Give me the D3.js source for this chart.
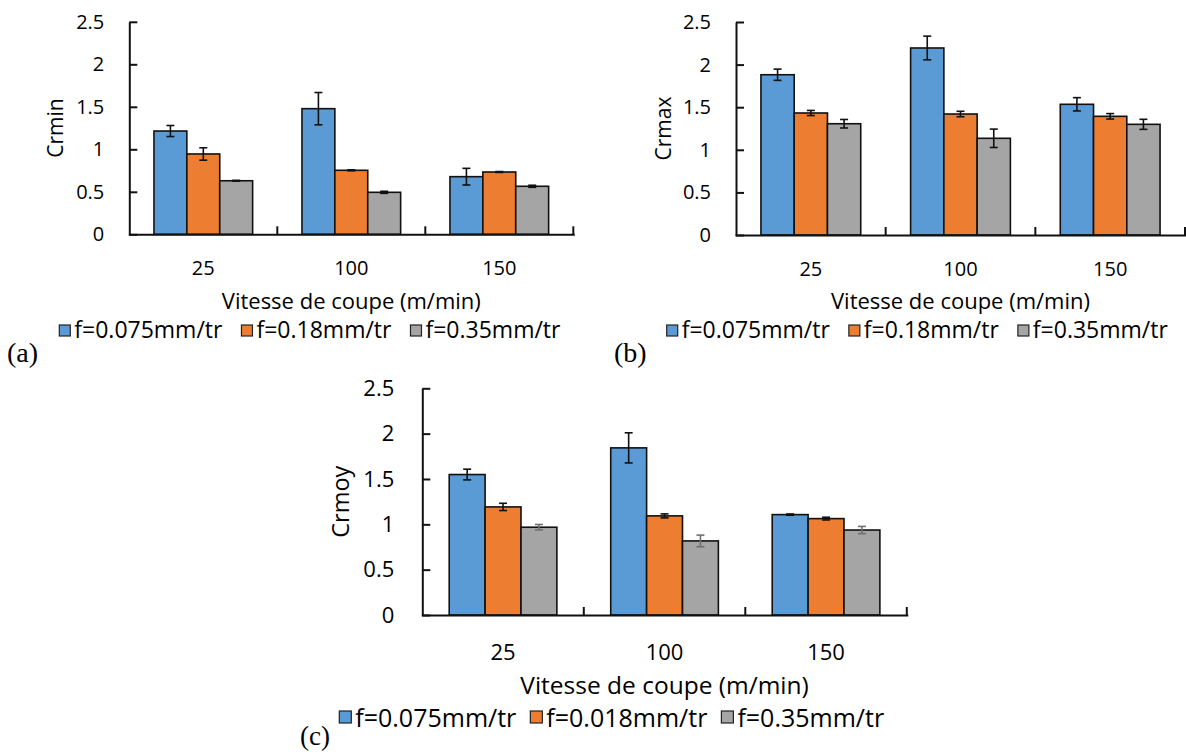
<!DOCTYPE html>
<html><head><meta charset="utf-8">
<script src="https://cdn.jsdelivr.net/npm/d3@7"></script>
<style>
body{margin:0;background:#fff}
svg{display:block}
</style>
</head><body>
<svg id="chart" width="1186" height="754"></svg>
<script>
// ---------- data ----------
const categories = ["25", "100", "150"];
const legendAB = ["f=0.075mm/tr", "f=0.18mm/tr", "f=0.35mm/tr"];
const legendC = ["f=0.075mm/tr", "f=0.018mm/tr", "f=0.35mm/tr"];
const yTickValues = [0, 0.5, 1, 1.5, 2, 2.5];
const seriesColors = ["#5B9BD5", "#ED7D31", "#A5A5A5"];

// (a) Crmin
const crmin075 = [1.215, 1.478, 0.678];
const crmin075Err = [0.065, 0.19, 0.098];
const crmin018 = [0.945, 0.753, 0.733];
const crmin018Err = [0.073, 0.006, 0.005];
const crmin035 = [0.63, 0.494, 0.565];
const crmin035Err = [0.005, 0.012, 0.012];

// (b) Crmax
const crmax075 = [1.881, 2.195, 1.534];
const crmax075Err = [0.066, 0.139, 0.078];
const crmax018 = [1.432, 1.42, 1.393];
const crmax018Err = [0.03, 0.032, 0.032];
const crmax035 = [1.306, 1.135, 1.299];
const crmax035Err = [0.05, 0.108, 0.059];

// (c) Crmoy
const crmoy075 = [1.549, 1.843, 1.107];
const crmoy075Err = [0.059, 0.166, 0.007];
const crmoy018 = [1.192, 1.093, 1.063];
const crmoy018Err = [0.04, 0.022, 0.015];
const crmoy035 = [0.968, 0.817, 0.937];
const crmoy035Err = [0.03, 0.064, 0.04];

// ---------- drawing ----------
const svg = d3.select("#chart");
const FONT = "'Open Sans', sans-serif";

function drawPanel(p) {
  const g = svg.append("g");
  const x = d3.scaleBand().domain(categories).range([p.left, p.right]);
  const xs = d3.scaleBand().domain(d3.range(p.series.length))
    .range([0, x.bandwidth()]).paddingOuter(0.75);
  const y = d3.scaleLinear().domain([0, 2.5]).range([p.bottom, p.top]);

  // bars
  p.series.forEach((s, i) => {
    g.selectAll(null).data(s.values).enter().append("rect")
      .attr("x", (d, j) => x(categories[j]) + xs(i))
      .attr("y", d => y(d))
      .attr("width", xs.bandwidth())
      .attr("height", d => y(0) - y(d))
      .attr("fill", seriesColors[i])
      .attr("stroke", "#111").attr("stroke-width", 1.6);
  });

  // error bars
  p.series.forEach((s, i) => {
    const col = s.errColor || "#111";
    const eg = g.selectAll(null).data(s.values).enter().append("g")
      .attr("stroke", col).attr("stroke-width", 1.6);
    const cx = (j) => x(categories[j]) + xs(i) + xs.bandwidth() / 2;
    eg.append("line")
      .attr("x1", (d, j) => cx(j)).attr("x2", (d, j) => cx(j))
      .attr("y1", (d, j) => y(d - s.err[j])).attr("y2", (d, j) => y(d + s.err[j]));
    eg.append("line")
      .attr("x1", (d, j) => cx(j) - 4).attr("x2", (d, j) => cx(j) + 4)
      .attr("y1", (d, j) => y(d + s.err[j])).attr("y2", (d, j) => y(d + s.err[j]));
    eg.append("line")
      .attr("x1", (d, j) => cx(j) - 4).attr("x2", (d, j) => cx(j) + 4)
      .attr("y1", (d, j) => y(d - s.err[j])).attr("y2", (d, j) => y(d - s.err[j]));
  });

  // y axis
  const ya = d3.axisLeft(y).tickValues(yTickValues).tickSize(-8).tickSizeOuter(0)
    .tickPadding(p.tickPad).tickFormat(d3.format("~g"));
  const yg = g.append("g").attr("transform", `translate(${p.left},0)`).call(ya)
    .attr("font-family", FONT).attr("font-size", p.tickFont);
  yg.select(".domain").attr("stroke", "#111").attr("stroke-width", 2);
  yg.selectAll(".tick line").attr("stroke", "#111").attr("stroke-width", 2);
  yg.selectAll(".tick text").attr("fill", "#000");

  // x axis
  const xa = d3.axisBottom(x).tickSize(0).tickSizeOuter(0).tickPadding(p.catPad);
  const xg = g.append("g").attr("transform", `translate(0,${p.bottom})`).call(xa)
    .attr("font-family", FONT).attr("font-size", p.tickFont);
  xg.select(".domain").attr("stroke", "#111").attr("stroke-width", 2)
    .attr("stroke-linecap", "square");
  xg.selectAll(".tick text").attr("fill", "#000");
  // category boundary ticks (pointing up)
  g.selectAll(null).data(categories).enter().append("line")
    .attr("x1", d => x(d) + x.bandwidth()).attr("x2", d => x(d) + x.bandwidth())
    .attr("y1", p.bottom).attr("y2", p.bottom - 8)
    .attr("stroke", "#111").attr("stroke-width", 2);

  // y title
  g.append("text")
    .attr("transform", `translate(${p.yTitleX},${(p.top + p.bottom) / 2})` + " rotate(-90)")
    .attr("text-anchor", "middle").attr("dominant-baseline", "central")
    .attr("font-family", FONT).attr("font-size", p.yTitleFont).attr("fill", "#000")
    .text(p.yTitle);

  // x title
  g.append("text")
    .attr("x", (p.left + p.right) / 2).attr("y", p.xTitleY)
    .attr("text-anchor", "middle")
    .attr("font-family", FONT).attr("font-size", p.xTitleFont).attr("fill", "#000")
    .text("Vitesse de coupe (m/min)");

  // legend
  let lx = p.legendX;
  p.legend.forEach((lab, i) => {
    g.append("rect").attr("x", lx).attr("y", p.legendY)
      .attr("width", p.sq).attr("height", p.sq)
      .attr("fill", seriesColors[i]).attr("stroke", "#222").attr("stroke-width", 1.2);
    const t = g.append("text").attr("x", lx + p.sq + 4).attr("y", p.legendBase)
      .attr("font-family", FONT).attr("font-size", p.legendFont).attr("fill", "#000")
      .text(lab);
    lx = lx + p.sq + 4 + t.node().getComputedTextLength() + p.legendGap;
  });

  // panel tag
  g.append("text").attr("x", p.tagX).attr("y", p.tagY)
    .attr("font-family", "'Liberation Serif', 'Times New Roman', serif")
    .attr("font-size", p.tagFont).attr("fill", "#000").text(p.tag);
}

drawPanel({
  left: 129.3, right: 573.3, bottom: 234.3, top: 21.8,
  series: [
    {values: crmin075, err: crmin075Err},
    {values: crmin018, err: crmin018Err},
    {values: crmin035, err: crmin035Err}
  ],
  tickPad: 25, tickFont: 20, catPad: 27,
  yTitle: "Crmin", yTitleX: 55, yTitleFont: 21,
  xTitleY: 309, xTitleFont: 22,
  legend: legendAB, legendX: 59.3, legendY: 325, sq: 11, legendBase: 337.5, legendFont: 23, legendGap: 19,
  tag: "(a)", tagX: 7, tagY: 362, tagFont: 28
});

drawPanel({
  left: 736, right: 1185, bottom: 235, top: 22,
  series: [
    {values: crmax075, err: crmax075Err},
    {values: crmax018, err: crmax018Err},
    {values: crmax035, err: crmax035Err}
  ],
  tickPad: 25, tickFont: 20, catPad: 27,
  yTitle: "Crmax", yTitleX: 663, yTitleFont: 21,
  xTitleY: 309, xTitleFont: 22,
  legend: legendAB, legendX: 666.7, legendY: 325, sq: 11, legendBase: 337.5, legendFont: 23, legendGap: 19,
  tag: "(b)", tagX: 614, tagY: 362, tagFont: 28
});

drawPanel({
  left: 422.3, right: 906.8, bottom: 615, top: 388.3,
  series: [
    {values: crmoy075, err: crmoy075Err},
    {values: crmoy018, err: crmoy018Err},
    {values: crmoy035, err: crmoy035Err, errColor: "#707070"}
  ],
  tickPad: 28, tickFont: 22, catPad: 29,
  yTitle: "Crmoy", yTitleX: 340, yTitleFont: 23.5,
  xTitleY: 693.5, xTitleFont: 24.5,
  legend: legendC, legendX: 339.3, legendY: 711, sq: 12, legendBase: 727, legendFont: 25, legendGap: 14,
  tag: "(c)", tagX: 300, tagY: 745, tagFont: 27
});
</script>
</body></html>
